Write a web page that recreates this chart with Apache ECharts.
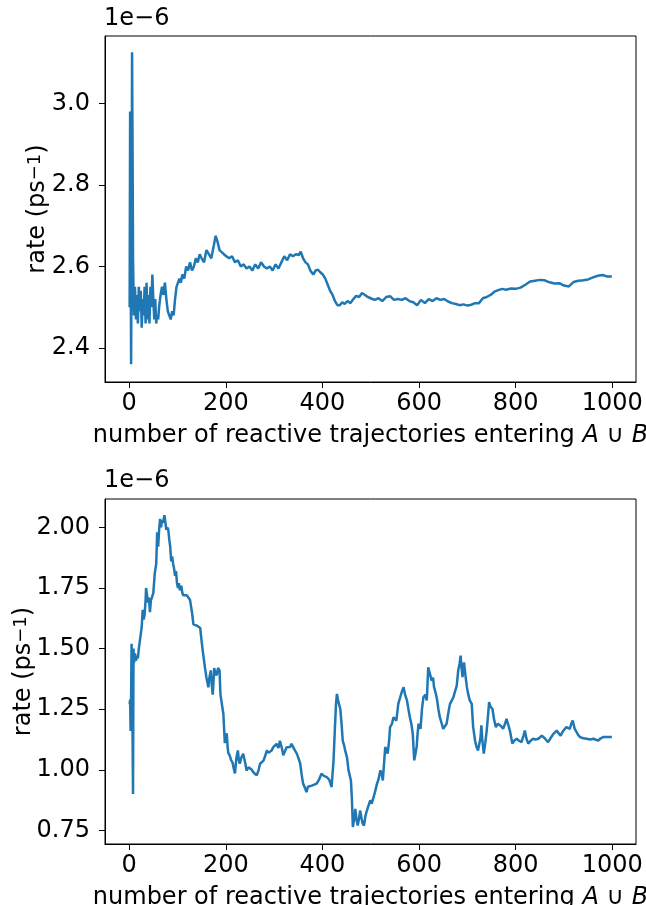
<!DOCTYPE html>
<html>
<head>
<meta charset="utf-8">
<script src="https://cdn.jsdelivr.net/npm/echarts@6/dist/echarts.min.js"></script>
<style>
html,body{margin:0;padding:0;background:#fff;}
#chart{width:646px;height:905px;}
</style>
</head>
<body>
<div id="chart"></div>
<script>
// Values are in units of 1e-6 ps^-1
const topX = [1,2,3,4,5,6,7,8,9,10,
12,14,16,18,20,22,24,26,28,30,
32,34,36,38,40,42,44,46,48,50,
52,54,56,58,60,62,65,68,71,74,
77,80,83,86,89,92,95,98,101,104,
107,110,114,118,122,126,130,134,138,142,
146,150,155,160,165,170,175,179,183,187,
191,196,201,207,213,219,225,231,237,243,
249,255,261,267,273,279,285,291,297,303,
309,315,321,327,333,339,345,351,355,360,
365,370,375,381,386,391,396,401,406,411,
416,421,426,431,436,441,446,452,458,464,
470,476,482,488,494,500,508,516,524,532,
540,548,556,564,572,580,588,596,604,612,
620,628,636,644,652,660,668,676,684,692,
700,708,716,724,732,740,748,756,764,772,
780,790,800,810,820,830,840,850,860,870,
880,890,900,910,920,930,940,950,960,970,
980,990,999];
const topY = [2.50,2.98,2.70,2.36,2.62,3.125,2.90,2.62,2.54,2.48,
2.55,2.47,2.53,2.46,2.55,2.49,2.54,2.45,2.52,2.48,
2.55,2.46,2.56,2.47,2.53,2.46,2.55,2.50,2.58,2.52,
2.47,2.52,2.46,2.48,2.47,2.50,2.53,2.55,2.53,2.56,
2.52,2.49,2.48,2.47,2.49,2.48,2.52,2.55,2.55,2.57,
2.56,2.58,2.57,2.60,2.59,2.61,2.59,2.60,2.62,2.61,
2.63,2.62,2.61,2.64,2.63,2.62,2.65,2.675,2.66,2.64,
2.64,2.63,2.625,2.62,2.625,2.61,2.615,2.60,2.605,2.595,
2.60,2.59,2.605,2.595,2.61,2.60,2.595,2.60,2.59,2.605,
2.595,2.61,2.625,2.615,2.63,2.625,2.63,2.628,2.636,2.62,
2.61,2.605,2.59,2.58,2.59,2.592,2.585,2.58,2.57,2.555,
2.54,2.53,2.515,2.505,2.505,2.512,2.508,2.515,2.51,2.52,
2.528,2.525,2.535,2.53,2.525,2.522,2.518,2.522,2.515,2.525,
2.527,2.518,2.52,2.518,2.522,2.515,2.512,2.505,2.518,2.51,
2.52,2.515,2.522,2.518,2.52,2.514,2.51,2.508,2.505,2.507,
2.504,2.506,2.51,2.51,2.522,2.525,2.53,2.538,2.542,2.545,
2.543,2.546,2.545,2.548,2.555,2.563,2.565,2.567,2.566,2.561,
2.558,2.559,2.553,2.551,2.562,2.565,2.566,2.568,2.573,2.577,
2.579,2.575,2.575];

const botX = [1,2,3,4,5,6,7,8,9,10,
12,14,16,18,20,22,24,26,28,30,
32,34,35,37,39,41,43,45,47,50,
53,56,58,60,62,64,66,68,70,73,
75,77,79,81,83,85,87,89,91,93,
95,97,99,101,103,105,108,110,112,116,
119,123,126,130,133,137,140,144,147,150,
153,157,160,162,164,166,169,171,173,175,
176,178,181,184,187,189,192,195,197,198,
200,202,204,205,208,211,214,216,219,222,
225,227,229,232,236,240,243,247,250,254,
257,261,264,268,271,275,278,282,285,288,
291,295,298,302,305,309,312,316,319,323,
326,330,333,336,340,343,347,350,354,357,
360,363,367,370,374,378,382,388,393,398,
403,409,414,419,423,426,428,430,433,437,
440,442,445,447,451,454,457,459,461,463,
466,468,471,473,476,478,481,483,486,489,
492,495,499,502,506,509,513,516,520,523,
525,528,530,533,535,538,540,544,547,550,
553,557,561,564,568,571,575,578,581,584,
587,590,592,595,597,599,601,603,606,609,
613,616,619,622,626,629,631,634,637,640,
643,647,650,653,657,661,664,668,671,674,
678,681,684,686,688,690,693,696,699,702,
705,709,712,716,719,722,725,727,729,731,
734,737,740,743,745,748,752,755,759,763,
767,770,774,778,781,784,788,791,793,797,
802,807,812,816,819,822,826,831,836,841,
847,854,860,867,872,878,885,889,893,898,
905,908,912,915,918,922,925,929,933,940,
947,954,961,966,971,976,981,990,999];
const botY = [1.27,1.29,1.16,1.30,1.52,1.35,1.15,0.90,1.50,1.44,
1.48,1.45,1.47,1.46,1.50,1.53,1.56,1.59,1.66,1.62,
1.64,1.70,1.75,1.72,1.69,1.71,1.65,1.70,1.71,1.73,
1.81,1.85,1.98,1.92,1.99,2.035,2.00,2.03,2.02,2.05,
2.02,1.99,2.00,1.99,1.95,1.92,1.86,1.88,1.85,1.83,
1.80,1.82,1.77,1.75,1.77,1.74,1.76,1.73,1.72,1.72,
1.72,1.71,1.70,1.65,1.60,1.595,1.595,1.59,1.585,1.53,
1.48,1.42,1.38,1.36,1.34,1.38,1.41,1.35,1.31,1.38,
1.42,1.40,1.39,1.42,1.41,1.31,1.27,1.23,1.15,1.11,
1.14,1.15,1.09,1.07,1.06,1.04,1.03,1.01,0.985,1.05,
1.08,1.04,1.025,1.05,1.066,1.03,0.997,1.01,1.011,1.00,
0.99,0.985,0.977,1.00,1.025,1.03,1.038,1.06,1.08,1.07,
1.066,1.08,1.093,1.10,1.107,1.09,1.12,1.09,1.06,1.08,
1.093,1.10,1.094,1.107,1.108,1.08,1.067,1.05,1.026,0.98,
0.943,0.93,0.908,0.93,0.936,0.935,0.94,0.943,0.96,0.984,
0.975,0.97,0.96,0.929,1.039,1.18,1.27,1.313,1.28,1.251,
1.18,1.12,1.10,1.08,1.05,0.998,1.00,0.956,0.88,0.764,
0.80,0.839,0.79,0.77,0.80,0.832,0.80,0.78,0.77,0.81,
0.832,0.85,0.874,0.86,0.888,0.91,0.943,0.96,0.998,0.98,
0.956,1.04,1.094,1.08,1.067,1.12,1.176,1.19,1.217,1.22,
1.203,1.272,1.28,1.32,1.341,1.31,1.286,1.25,1.217,1.19,
1.148,1.039,1.06,1.094,1.15,1.19,1.18,1.169,1.25,1.299,
1.31,1.286,1.423,1.40,1.368,1.38,1.341,1.32,1.293,1.25,
1.217,1.19,1.169,1.17,1.19,1.24,1.272,1.28,1.299,1.32,
1.347,1.409,1.44,1.471,1.42,1.382,1.443,1.39,1.341,1.31,
1.286,1.272,1.176,1.12,1.094,1.08,1.073,1.13,1.183,1.12,
1.067,1.11,1.162,1.23,1.279,1.26,1.251,1.21,1.176,1.19,
1.196,1.18,1.169,1.19,1.21,1.19,1.162,1.13,1.108,1.12,
1.128,1.12,1.114,1.14,1.162,1.13,1.108,1.12,1.128,1.125,
1.128,1.141,1.13,1.114,1.13,1.148,1.162,1.15,1.141,1.16,
1.176,1.17,1.169,1.19,1.203,1.17,1.162,1.145,1.135,1.13,
1.128,1.125,1.128,1.124,1.121,1.13,1.135,1.135,1.135];

const xTicks = [0,200,400,600,800,1000];
const topYTicks = [2.4,2.6,2.8,3.0];
const botYTicks = [0.75,1.00,1.25,1.50,1.75,2.00];
const offsetText = '1e\u22126';
const xName = 'number of reactive trajectories entering {i|A} \u222A {i|B}';
const yName = '{n|rate (ps}{s|\u22121}{n|)}';

function zip(xs, ys){ return xs.map((x,i)=>[x, ys[i]]); }

const FONT = 'DejaVu Sans';
const FS = 24;
const textBase = {color:'#000', fontFamily: FONT, fontSize: FS};

function xAxisDef(gridIndex){
  return {
    type:'value', gridIndex, min:-50, max:1049,
    name: xName, nameLocation:'middle', nameGap: 42, nameMoveOverlap:false,
    nameTextStyle: Object.assign({}, textBase, {rich:{i:{fontStyle:'italic', fontFamily: FONT, fontSize: FS, color:'#000'}}}),
    axisLine:{show:true, onZero:false, lineStyle:{color:'#000', width:1}},
    axisTick:{show:true, inside:false, length:6, lineStyle:{color:'#000', width:1}, customValues: xTicks},
    axisLabel:Object.assign({}, textBase, {margin:10, customValues: xTicks, formatter:(v)=>String(Math.round(v))}),
    splitLine:{show:false}
  };
}
function yAxisDef(gridIndex, min, max, ticks, digits, gap){
  return {
    type:'value', gridIndex, min, max,
    name: yName, nameLocation:'middle', nameGap: gap, nameMoveOverlap:false,
    nameTextStyle: {color:'#000', fontFamily: FONT, fontSize: FS,
      rich:{
        n:{color:'#000', fontFamily: FONT, fontSize: FS, lineHeight: 24, padding:[12,0,0,0], verticalAlign:'bottom'},
        s:{color:'#000', fontFamily: FONT, fontSize: 18, lineHeight: 18, verticalAlign:'top'}
      }},
    axisLine:{show:true, onZero:false, lineStyle:{color:'#000', width:1}},
    axisTick:{show:true, inside:false, length:6, lineStyle:{color:'#000', width:1}, customValues: ticks},
    axisLabel:Object.assign({}, textBase, {margin:15, customValues: ticks, formatter:(v)=>v.toFixed(digits)}),
    splitLine:{show:false}
  };
}

const chart = echarts.init(document.getElementById('chart'), null, {renderer:'canvas'});
chart.setOption({
  animation:false,
  backgroundColor:'#fff',
  grid:[
    {left:105, top:36, width:531, height:346, show:true, borderColor:'#000', borderWidth:1, backgroundColor:'transparent', containLabel:false, outerBoundsMode:'none'},
    {left:105, top:499, width:531, height:345, show:true, borderColor:'#000', borderWidth:1, backgroundColor:'transparent', containLabel:false, outerBoundsMode:'none'}
  ],
  xAxis:[xAxisDef(0), xAxisDef(1)],
  yAxis:[yAxisDef(0, 2.3166, 3.165, topYTicks, 1, 55), yAxisDef(1, 0.694, 2.117, botYTicks, 2, 69)],
  graphic:[
    {type:'text', left:104, top:7, style:{text:offsetText, fill:'#000', font:FS+'px "'+FONT+'"'}},
    {type:'text', left:104, top:469, style:{text:offsetText, fill:'#000', font:FS+'px "'+FONT+'"'}}
  ],
  series:[
    {type:'line', xAxisIndex:0, yAxisIndex:0, data:zip(topX, topY), showSymbol:false, symbol:'none',
     lineStyle:{color:'#1f77b4', width:2.5}, itemStyle:{color:'#1f77b4'}},
    {type:'line', xAxisIndex:1, yAxisIndex:1, data:zip(botX, botY), showSymbol:false, symbol:'none',
     lineStyle:{color:'#1f77b4', width:2.5}, itemStyle:{color:'#1f77b4'}}
  ]
});
</script>
</body>
</html>
